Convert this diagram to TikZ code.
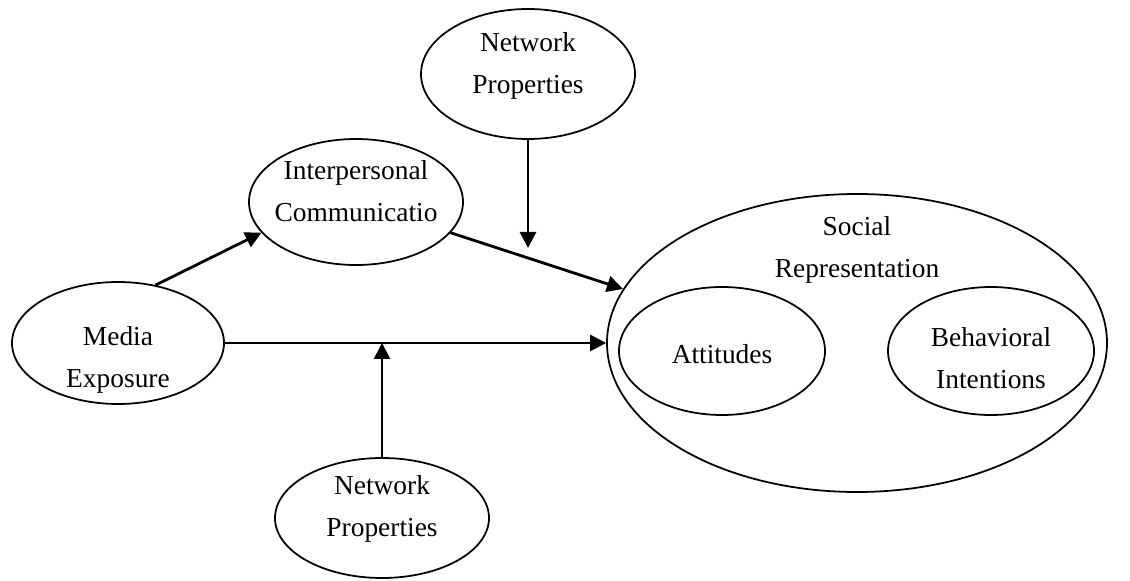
\documentclass[tikz,border=0pt]{standalone}
\usepackage{fontspec}
\setmainfont{Liberation Serif}
\usetikzlibrary{arrows.meta,shapes.geometric}
\begin{document}
\begin{tikzpicture}[font=\fontsize{15.6}{24}\selectfont]
      \tikzstyle{bubble}=[draw, ellipse, line width=1pt, inner sep=0pt, minimum width=4.28cm, minimum height=2.5cm]
      \tikzstyle{innerbubble}=[bubble, minimum width=4.12cm, minimum height=2.56cm]
      \tikzstyle{txt}=[align=center, inner sep=0pt]
      \tikzstyle{link}=[draw, line width=1.6pt, -{Triangle[length=0.32cm,width=0.32cm]}]
      \useasboundingbox (0,0) rectangle (22.6,11.6);
      % outer ellipse and its two parts
      \node[bubble, minimum width=10cm, minimum height=5.96cm] (social) at (17.14,4.74) {};
      \node[txt] (soclabel) at (17.14,6.6) {Social\\Representation};
      \node[innerbubble] (att) at (14.44,4.58) {};
      \node[txt] (attlabel) at ([yshift=-0.06cm]att.center) {Attitudes};
      \node[innerbubble] (beh) at (19.82,4.58) {};
      \node[txt] (behlabel) at ([yshift=-0.14cm]beh.center) {Behavioral\\Intentions};
      % the other bubbles
      \node[bubble, minimum height=2.6cm] (nettop) at (10.56,10.12) {};
      \node[txt] (nettoplabel) at ([yshift=0.16cm]nettop.center) {Network\\Properties};
      \node[bubble, minimum height=2.52cm] (inter) at (7.12,7.56) {};
      \node[txt] (interlabel) at ([yshift=0.22cm]inter.center) {Interpersonal\\Communicatio};
      \node[bubble, minimum width=4.24cm, minimum height=2.44cm] (media) at (2.36,4.74) {};
      \node[txt] (medialabel) at ([yshift=-0.34cm]media.center) {Media\\Exposure};
      \node[bubble, minimum height=2.4cm] (netbot) at (7.64,1.24) {};
      \node[txt] (netbotlabel) at ([yshift=0.18cm]netbot.center) {Network\\Properties};
      \coordinate (topend) at (10.56,6.64);
      \coordinate (botend) at (netbot.north |- media.east);
      % arrows
      \draw[link] (media.57) -- (inter.198);
      \draw[link] (inter.342) -- (social.167);
      \draw[link] (media.east) -- (social.west);
      \draw[link] (nettop.south) -- (topend);
      \draw[link] (netbot.north) -- (botend);
\end{tikzpicture}
\end{document}
